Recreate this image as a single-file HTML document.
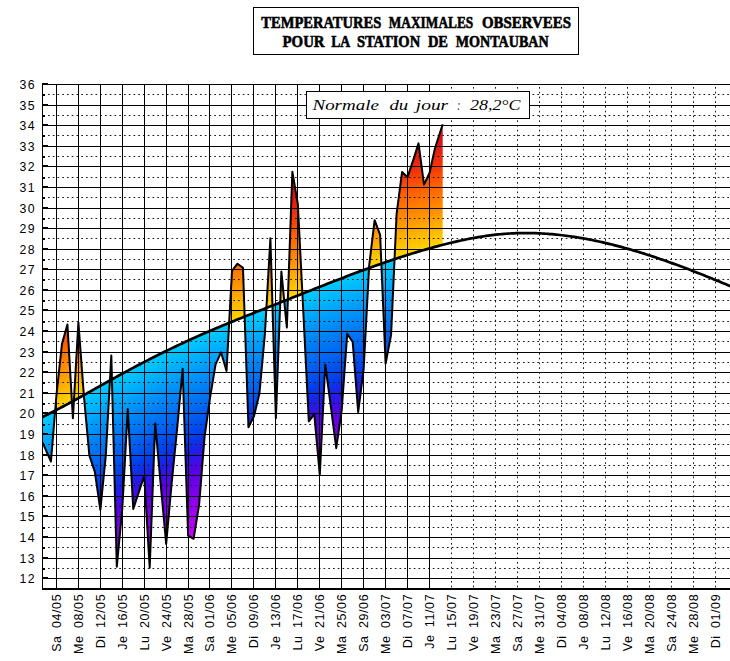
<!DOCTYPE html><html><head><meta charset="utf-8"><style>html,body{margin:0;padding:0;background:#fff;width:730px;height:661px;overflow:hidden;position:relative}</style></head><body><svg width="730" height="661" viewBox="0 0 730 661" style="position:absolute;left:0;top:0">
<defs>
<linearGradient id="g" x1="0" y1="0" x2="0" y2="1">
<stop offset="0.0000" stop-color="rgb(175,0,40)"/>
<stop offset="0.1053" stop-color="rgb(205,0,30)"/>
<stop offset="0.1579" stop-color="rgb(220,20,20)"/>
<stop offset="0.2105" stop-color="rgb(240,50,10)"/>
<stop offset="0.2632" stop-color="rgb(255,95,0)"/>
<stop offset="0.3158" stop-color="rgb(255,135,0)"/>
<stop offset="0.3684" stop-color="rgb(255,175,0)"/>
<stop offset="0.4211" stop-color="rgb(255,215,0)"/>
<stop offset="0.4211" stop-color="rgb(0,205,255)"/>
<stop offset="0.5000" stop-color="rgb(0,160,250)"/>
<stop offset="0.5526" stop-color="rgb(0,130,245)"/>
<stop offset="0.6105" stop-color="rgb(0,100,240)"/>
<stop offset="0.6684" stop-color="rgb(0,65,235)"/>
<stop offset="0.7105" stop-color="rgb(30,30,230)"/>
<stop offset="0.7632" stop-color="rgb(90,0,230)"/>
<stop offset="0.8158" stop-color="rgb(125,0,235)"/>
<stop offset="0.8684" stop-color="rgb(160,0,242)"/>
<stop offset="0.9211" stop-color="rgb(195,0,252)"/>
<stop offset="0.9737" stop-color="rgb(220,0,255)"/>
<stop offset="1.0000" stop-color="rgb(225,0,255)"/>
</linearGradient>
<clipPath id="plot"><rect x="42" y="84" width="688" height="504"/></clipPath>
<clipPath id="fillc"><polygon points="39.99,436.80 45.48,449.17 50.96,461.53 56.45,394.97 61.94,344.07 67.42,324.49 72.91,418.26 78.39,322.43 83.88,395.59 89.37,455.35 94.85,471.84 100.34,509.96 105.82,455.35 111.31,355.40 116.80,566.64 122.28,508.93 127.77,408.98 133.25,508.93 138.74,492.45 144.23,475.96 149.71,567.67 155.20,423.41 160.68,484.20 166.17,543.97 171.66,483.17 177.14,428.56 182.63,368.80 188.11,535.72 193.60,538.81 199.09,504.81 204.57,436.80 210.06,397.65 215.54,364.68 221.03,352.31 226.52,370.86 232.00,270.91 237.49,263.70 242.97,267.82 248.46,427.33 253.95,416.20 259.43,393.53 264.92,333.76 270.40,238.35 275.89,418.26 281.38,271.53 286.86,327.58 292.35,171.79 297.83,203.93 303.32,312.13 308.81,421.35 314.29,414.14 319.78,474.93 325.26,364.68 330.75,405.89 336.24,448.14 341.72,410.01 347.21,333.76 352.69,342.01 358.18,412.08 363.67,368.80 369.15,265.76 374.64,220.21 380.12,234.85 385.61,363.65 391.10,334.80 396.58,214.24 402.07,171.99 407.55,177.14 413.04,160.66 418.53,143.35 424.01,184.56 429.50,173.02 434.98,148.29 442.70,124.18 442.70,244.85 440.70,245.37 438.70,245.90 436.70,246.43 434.70,246.97 432.70,247.52 430.70,248.08 428.70,248.64 426.70,249.21 424.70,249.78 422.70,250.36 420.70,250.95 418.70,251.55 416.70,252.15 414.70,252.75 412.70,253.36 410.70,253.98 408.70,254.61 406.70,255.24 404.70,255.87 402.70,256.51 400.70,257.16 398.70,257.81 396.70,258.47 394.70,259.13 392.70,259.80 390.70,260.47 388.70,261.15 386.70,261.83 384.70,262.52 382.70,263.21 380.70,263.91 378.70,264.61 376.70,265.32 374.70,266.03 372.70,266.74 370.70,267.46 368.70,268.18 366.70,268.91 364.70,269.64 362.70,270.37 360.70,271.11 358.70,271.85 356.70,272.59 354.70,273.34 352.70,274.09 350.70,274.84 348.70,275.60 346.70,276.36 344.70,277.12 342.70,277.89 340.70,278.65 338.70,279.42 336.70,280.20 334.70,280.97 332.70,281.75 330.70,282.53 328.70,283.31 326.70,284.09 324.70,284.88 322.70,285.66 320.70,286.45 318.70,287.24 316.70,288.03 314.70,288.82 312.70,289.61 310.70,290.40 308.70,291.20 306.70,291.99 304.70,292.79 302.70,293.58 300.70,294.38 298.70,295.17 296.70,295.97 294.70,296.77 292.70,297.56 290.70,298.36 288.70,299.15 286.70,299.95 284.70,300.74 282.70,301.53 280.70,302.33 278.70,303.12 276.70,303.91 274.70,304.70 272.70,305.49 270.70,306.28 268.70,307.07 266.70,307.86 264.70,308.65 262.70,309.43 260.70,310.22 258.70,311.01 256.70,311.81 254.70,312.60 252.70,313.39 250.70,314.19 248.70,314.98 246.70,315.78 244.70,316.58 242.70,317.38 240.70,318.18 238.70,318.99 236.70,319.79 234.70,320.60 232.70,321.42 230.70,322.23 228.70,323.05 226.70,323.87 224.70,324.70 222.70,325.53 220.70,326.36 218.70,327.20 216.70,328.04 214.70,328.88 212.70,329.73 210.70,330.59 208.70,331.44 206.70,332.31 204.70,333.17 202.70,334.05 200.70,334.93 198.70,335.81 196.70,336.70 194.70,337.60 192.70,338.50 190.70,339.40 188.70,340.32 186.70,341.23 184.70,342.16 182.70,343.09 180.70,344.02 178.70,344.96 176.70,345.91 174.70,346.86 172.70,347.82 170.70,348.78 168.70,349.75 166.70,350.72 164.70,351.70 162.70,352.68 160.70,353.67 158.70,354.67 156.70,355.67 154.70,356.67 152.70,357.68 150.70,358.70 148.70,359.72 146.70,360.74 144.70,361.77 142.70,362.81 140.70,363.85 138.70,364.90 136.70,365.95 134.70,367.00 132.70,368.06 130.70,369.13 128.70,370.20 126.70,371.27 124.70,372.35 122.70,373.43 120.70,374.52 118.70,375.62 116.70,376.72 114.70,377.82 112.70,378.93 110.70,380.04 108.70,381.15 106.70,382.27 104.70,383.39 102.70,384.51 100.70,385.63 98.70,386.76 96.70,387.88 94.70,389.01 92.70,390.13 90.70,391.26 88.70,392.38 86.70,393.50 84.70,394.62 82.70,395.74 80.70,396.86 78.70,397.97 76.70,399.07 74.70,400.18 72.70,401.28 70.70,402.37 68.70,403.46 66.70,404.54 64.70,405.62 62.70,406.69 60.70,407.75 58.70,408.80 56.70,409.85 54.70,410.88 52.70,411.91 50.70,412.93 48.70,413.94 46.70,414.94 44.70,415.93 42.70,416.90 40.70,417.87"/></clipPath>
</defs>
<rect width="730" height="661" fill="#fff"/>
<g clip-path="url(#plot)"><g clip-path="url(#fillc)">
<rect x="38" y="254.0" width="1" height="391.6" fill="url(#g)" shape-rendering="crispEdges"/>
<rect x="39" y="253.6" width="1" height="391.6" fill="url(#g)" shape-rendering="crispEdges"/>
<rect x="40" y="253.1" width="1" height="391.6" fill="url(#g)" shape-rendering="crispEdges"/>
<rect x="41" y="252.6" width="1" height="391.6" fill="url(#g)" shape-rendering="crispEdges"/>
<rect x="42" y="252.1" width="1" height="391.6" fill="url(#g)" shape-rendering="crispEdges"/>
<rect x="43" y="251.6" width="1" height="391.6" fill="url(#g)" shape-rendering="crispEdges"/>
<rect x="44" y="251.2" width="1" height="391.6" fill="url(#g)" shape-rendering="crispEdges"/>
<rect x="45" y="250.7" width="1" height="391.6" fill="url(#g)" shape-rendering="crispEdges"/>
<rect x="46" y="250.2" width="1" height="391.6" fill="url(#g)" shape-rendering="crispEdges"/>
<rect x="47" y="249.7" width="1" height="391.6" fill="url(#g)" shape-rendering="crispEdges"/>
<rect x="48" y="249.2" width="1" height="391.6" fill="url(#g)" shape-rendering="crispEdges"/>
<rect x="49" y="248.7" width="1" height="391.6" fill="url(#g)" shape-rendering="crispEdges"/>
<rect x="50" y="248.2" width="1" height="391.6" fill="url(#g)" shape-rendering="crispEdges"/>
<rect x="51" y="247.7" width="1" height="391.6" fill="url(#g)" shape-rendering="crispEdges"/>
<rect x="52" y="247.2" width="1" height="391.6" fill="url(#g)" shape-rendering="crispEdges"/>
<rect x="53" y="246.6" width="1" height="391.6" fill="url(#g)" shape-rendering="crispEdges"/>
<rect x="54" y="246.1" width="1" height="391.6" fill="url(#g)" shape-rendering="crispEdges"/>
<rect x="55" y="245.6" width="1" height="391.6" fill="url(#g)" shape-rendering="crispEdges"/>
<rect x="56" y="245.1" width="1" height="391.6" fill="url(#g)" shape-rendering="crispEdges"/>
<rect x="57" y="244.6" width="1" height="391.6" fill="url(#g)" shape-rendering="crispEdges"/>
<rect x="58" y="244.0" width="1" height="391.6" fill="url(#g)" shape-rendering="crispEdges"/>
<rect x="59" y="243.5" width="1" height="391.6" fill="url(#g)" shape-rendering="crispEdges"/>
<rect x="60" y="243.0" width="1" height="391.6" fill="url(#g)" shape-rendering="crispEdges"/>
<rect x="61" y="242.5" width="1" height="391.6" fill="url(#g)" shape-rendering="crispEdges"/>
<rect x="62" y="241.9" width="1" height="391.6" fill="url(#g)" shape-rendering="crispEdges"/>
<rect x="63" y="241.4" width="1" height="391.6" fill="url(#g)" shape-rendering="crispEdges"/>
<rect x="64" y="240.9" width="1" height="391.6" fill="url(#g)" shape-rendering="crispEdges"/>
<rect x="65" y="240.3" width="1" height="391.6" fill="url(#g)" shape-rendering="crispEdges"/>
<rect x="66" y="239.8" width="1" height="391.6" fill="url(#g)" shape-rendering="crispEdges"/>
<rect x="67" y="239.2" width="1" height="391.6" fill="url(#g)" shape-rendering="crispEdges"/>
<rect x="68" y="238.7" width="1" height="391.6" fill="url(#g)" shape-rendering="crispEdges"/>
<rect x="69" y="238.2" width="1" height="391.6" fill="url(#g)" shape-rendering="crispEdges"/>
<rect x="70" y="237.6" width="1" height="391.6" fill="url(#g)" shape-rendering="crispEdges"/>
<rect x="71" y="237.1" width="1" height="391.6" fill="url(#g)" shape-rendering="crispEdges"/>
<rect x="72" y="236.5" width="1" height="391.6" fill="url(#g)" shape-rendering="crispEdges"/>
<rect x="73" y="236.0" width="1" height="391.6" fill="url(#g)" shape-rendering="crispEdges"/>
<rect x="74" y="235.4" width="1" height="391.6" fill="url(#g)" shape-rendering="crispEdges"/>
<rect x="75" y="234.9" width="1" height="391.6" fill="url(#g)" shape-rendering="crispEdges"/>
<rect x="76" y="234.3" width="1" height="391.6" fill="url(#g)" shape-rendering="crispEdges"/>
<rect x="77" y="233.8" width="1" height="391.6" fill="url(#g)" shape-rendering="crispEdges"/>
<rect x="78" y="233.2" width="1" height="391.6" fill="url(#g)" shape-rendering="crispEdges"/>
<rect x="79" y="232.7" width="1" height="391.6" fill="url(#g)" shape-rendering="crispEdges"/>
<rect x="80" y="232.1" width="1" height="391.6" fill="url(#g)" shape-rendering="crispEdges"/>
<rect x="81" y="231.5" width="1" height="391.6" fill="url(#g)" shape-rendering="crispEdges"/>
<rect x="82" y="231.0" width="1" height="391.6" fill="url(#g)" shape-rendering="crispEdges"/>
<rect x="83" y="230.4" width="1" height="391.6" fill="url(#g)" shape-rendering="crispEdges"/>
<rect x="84" y="229.9" width="1" height="391.6" fill="url(#g)" shape-rendering="crispEdges"/>
<rect x="85" y="229.3" width="1" height="391.6" fill="url(#g)" shape-rendering="crispEdges"/>
<rect x="86" y="228.8" width="1" height="391.6" fill="url(#g)" shape-rendering="crispEdges"/>
<rect x="87" y="228.2" width="1" height="391.6" fill="url(#g)" shape-rendering="crispEdges"/>
<rect x="88" y="227.6" width="1" height="391.6" fill="url(#g)" shape-rendering="crispEdges"/>
<rect x="89" y="227.1" width="1" height="391.6" fill="url(#g)" shape-rendering="crispEdges"/>
<rect x="90" y="226.5" width="1" height="391.6" fill="url(#g)" shape-rendering="crispEdges"/>
<rect x="91" y="225.9" width="1" height="391.6" fill="url(#g)" shape-rendering="crispEdges"/>
<rect x="92" y="225.4" width="1" height="391.6" fill="url(#g)" shape-rendering="crispEdges"/>
<rect x="93" y="224.8" width="1" height="391.6" fill="url(#g)" shape-rendering="crispEdges"/>
<rect x="94" y="224.3" width="1" height="391.6" fill="url(#g)" shape-rendering="crispEdges"/>
<rect x="95" y="223.7" width="1" height="391.6" fill="url(#g)" shape-rendering="crispEdges"/>
<rect x="96" y="223.1" width="1" height="391.6" fill="url(#g)" shape-rendering="crispEdges"/>
<rect x="97" y="222.6" width="1" height="391.6" fill="url(#g)" shape-rendering="crispEdges"/>
<rect x="98" y="222.0" width="1" height="391.6" fill="url(#g)" shape-rendering="crispEdges"/>
<rect x="99" y="221.4" width="1" height="391.6" fill="url(#g)" shape-rendering="crispEdges"/>
<rect x="100" y="220.9" width="1" height="391.6" fill="url(#g)" shape-rendering="crispEdges"/>
<rect x="101" y="220.3" width="1" height="391.6" fill="url(#g)" shape-rendering="crispEdges"/>
<rect x="102" y="219.8" width="1" height="391.6" fill="url(#g)" shape-rendering="crispEdges"/>
<rect x="103" y="219.2" width="1" height="391.6" fill="url(#g)" shape-rendering="crispEdges"/>
<rect x="104" y="218.6" width="1" height="391.6" fill="url(#g)" shape-rendering="crispEdges"/>
<rect x="105" y="218.1" width="1" height="391.6" fill="url(#g)" shape-rendering="crispEdges"/>
<rect x="106" y="217.5" width="1" height="391.6" fill="url(#g)" shape-rendering="crispEdges"/>
<rect x="107" y="217.0" width="1" height="391.6" fill="url(#g)" shape-rendering="crispEdges"/>
<rect x="108" y="216.4" width="1" height="391.6" fill="url(#g)" shape-rendering="crispEdges"/>
<rect x="109" y="215.8" width="1" height="391.6" fill="url(#g)" shape-rendering="crispEdges"/>
<rect x="110" y="215.3" width="1" height="391.6" fill="url(#g)" shape-rendering="crispEdges"/>
<rect x="111" y="214.7" width="1" height="391.6" fill="url(#g)" shape-rendering="crispEdges"/>
<rect x="112" y="214.2" width="1" height="391.6" fill="url(#g)" shape-rendering="crispEdges"/>
<rect x="113" y="213.6" width="1" height="391.6" fill="url(#g)" shape-rendering="crispEdges"/>
<rect x="114" y="213.1" width="1" height="391.6" fill="url(#g)" shape-rendering="crispEdges"/>
<rect x="115" y="212.5" width="1" height="391.6" fill="url(#g)" shape-rendering="crispEdges"/>
<rect x="116" y="212.0" width="1" height="391.6" fill="url(#g)" shape-rendering="crispEdges"/>
<rect x="117" y="211.4" width="1" height="391.6" fill="url(#g)" shape-rendering="crispEdges"/>
<rect x="118" y="210.9" width="1" height="391.6" fill="url(#g)" shape-rendering="crispEdges"/>
<rect x="119" y="210.3" width="1" height="391.6" fill="url(#g)" shape-rendering="crispEdges"/>
<rect x="120" y="209.8" width="1" height="391.6" fill="url(#g)" shape-rendering="crispEdges"/>
<rect x="121" y="209.2" width="1" height="391.6" fill="url(#g)" shape-rendering="crispEdges"/>
<rect x="122" y="208.7" width="1" height="391.6" fill="url(#g)" shape-rendering="crispEdges"/>
<rect x="123" y="208.1" width="1" height="391.6" fill="url(#g)" shape-rendering="crispEdges"/>
<rect x="124" y="207.6" width="1" height="391.6" fill="url(#g)" shape-rendering="crispEdges"/>
<rect x="125" y="207.1" width="1" height="391.6" fill="url(#g)" shape-rendering="crispEdges"/>
<rect x="126" y="206.5" width="1" height="391.6" fill="url(#g)" shape-rendering="crispEdges"/>
<rect x="127" y="206.0" width="1" height="391.6" fill="url(#g)" shape-rendering="crispEdges"/>
<rect x="128" y="205.4" width="1" height="391.6" fill="url(#g)" shape-rendering="crispEdges"/>
<rect x="129" y="204.9" width="1" height="391.6" fill="url(#g)" shape-rendering="crispEdges"/>
<rect x="130" y="204.4" width="1" height="391.6" fill="url(#g)" shape-rendering="crispEdges"/>
<rect x="131" y="203.8" width="1" height="391.6" fill="url(#g)" shape-rendering="crispEdges"/>
<rect x="132" y="203.3" width="1" height="391.6" fill="url(#g)" shape-rendering="crispEdges"/>
<rect x="133" y="202.8" width="1" height="391.6" fill="url(#g)" shape-rendering="crispEdges"/>
<rect x="134" y="202.2" width="1" height="391.6" fill="url(#g)" shape-rendering="crispEdges"/>
<rect x="135" y="201.7" width="1" height="391.6" fill="url(#g)" shape-rendering="crispEdges"/>
<rect x="136" y="201.2" width="1" height="391.6" fill="url(#g)" shape-rendering="crispEdges"/>
<rect x="137" y="200.7" width="1" height="391.6" fill="url(#g)" shape-rendering="crispEdges"/>
<rect x="138" y="200.1" width="1" height="391.6" fill="url(#g)" shape-rendering="crispEdges"/>
<rect x="139" y="199.6" width="1" height="391.6" fill="url(#g)" shape-rendering="crispEdges"/>
<rect x="140" y="199.1" width="1" height="391.6" fill="url(#g)" shape-rendering="crispEdges"/>
<rect x="141" y="198.6" width="1" height="391.6" fill="url(#g)" shape-rendering="crispEdges"/>
<rect x="142" y="198.0" width="1" height="391.6" fill="url(#g)" shape-rendering="crispEdges"/>
<rect x="143" y="197.5" width="1" height="391.6" fill="url(#g)" shape-rendering="crispEdges"/>
<rect x="144" y="197.0" width="1" height="391.6" fill="url(#g)" shape-rendering="crispEdges"/>
<rect x="145" y="196.5" width="1" height="391.6" fill="url(#g)" shape-rendering="crispEdges"/>
<rect x="146" y="196.0" width="1" height="391.6" fill="url(#g)" shape-rendering="crispEdges"/>
<rect x="147" y="195.5" width="1" height="391.6" fill="url(#g)" shape-rendering="crispEdges"/>
<rect x="148" y="195.0" width="1" height="391.6" fill="url(#g)" shape-rendering="crispEdges"/>
<rect x="149" y="194.4" width="1" height="391.6" fill="url(#g)" shape-rendering="crispEdges"/>
<rect x="150" y="193.9" width="1" height="391.6" fill="url(#g)" shape-rendering="crispEdges"/>
<rect x="151" y="193.4" width="1" height="391.6" fill="url(#g)" shape-rendering="crispEdges"/>
<rect x="152" y="192.9" width="1" height="391.6" fill="url(#g)" shape-rendering="crispEdges"/>
<rect x="153" y="192.4" width="1" height="391.6" fill="url(#g)" shape-rendering="crispEdges"/>
<rect x="154" y="191.9" width="1" height="391.6" fill="url(#g)" shape-rendering="crispEdges"/>
<rect x="155" y="191.4" width="1" height="391.6" fill="url(#g)" shape-rendering="crispEdges"/>
<rect x="156" y="190.9" width="1" height="391.6" fill="url(#g)" shape-rendering="crispEdges"/>
<rect x="157" y="190.4" width="1" height="391.6" fill="url(#g)" shape-rendering="crispEdges"/>
<rect x="158" y="189.9" width="1" height="391.6" fill="url(#g)" shape-rendering="crispEdges"/>
<rect x="159" y="189.4" width="1" height="391.6" fill="url(#g)" shape-rendering="crispEdges"/>
<rect x="160" y="188.9" width="1" height="391.6" fill="url(#g)" shape-rendering="crispEdges"/>
<rect x="161" y="188.4" width="1" height="391.6" fill="url(#g)" shape-rendering="crispEdges"/>
<rect x="162" y="187.9" width="1" height="391.6" fill="url(#g)" shape-rendering="crispEdges"/>
<rect x="163" y="187.4" width="1" height="391.6" fill="url(#g)" shape-rendering="crispEdges"/>
<rect x="164" y="186.9" width="1" height="391.6" fill="url(#g)" shape-rendering="crispEdges"/>
<rect x="165" y="186.4" width="1" height="391.6" fill="url(#g)" shape-rendering="crispEdges"/>
<rect x="166" y="186.0" width="1" height="391.6" fill="url(#g)" shape-rendering="crispEdges"/>
<rect x="167" y="185.5" width="1" height="391.6" fill="url(#g)" shape-rendering="crispEdges"/>
<rect x="168" y="185.0" width="1" height="391.6" fill="url(#g)" shape-rendering="crispEdges"/>
<rect x="169" y="184.5" width="1" height="391.6" fill="url(#g)" shape-rendering="crispEdges"/>
<rect x="170" y="184.0" width="1" height="391.6" fill="url(#g)" shape-rendering="crispEdges"/>
<rect x="171" y="183.5" width="1" height="391.6" fill="url(#g)" shape-rendering="crispEdges"/>
<rect x="172" y="183.0" width="1" height="391.6" fill="url(#g)" shape-rendering="crispEdges"/>
<rect x="173" y="182.6" width="1" height="391.6" fill="url(#g)" shape-rendering="crispEdges"/>
<rect x="174" y="182.1" width="1" height="391.6" fill="url(#g)" shape-rendering="crispEdges"/>
<rect x="175" y="181.6" width="1" height="391.6" fill="url(#g)" shape-rendering="crispEdges"/>
<rect x="176" y="181.1" width="1" height="391.6" fill="url(#g)" shape-rendering="crispEdges"/>
<rect x="177" y="180.7" width="1" height="391.6" fill="url(#g)" shape-rendering="crispEdges"/>
<rect x="178" y="180.2" width="1" height="391.6" fill="url(#g)" shape-rendering="crispEdges"/>
<rect x="179" y="179.7" width="1" height="391.6" fill="url(#g)" shape-rendering="crispEdges"/>
<rect x="180" y="179.3" width="1" height="391.6" fill="url(#g)" shape-rendering="crispEdges"/>
<rect x="181" y="178.8" width="1" height="391.6" fill="url(#g)" shape-rendering="crispEdges"/>
<rect x="182" y="178.3" width="1" height="391.6" fill="url(#g)" shape-rendering="crispEdges"/>
<rect x="183" y="177.9" width="1" height="391.6" fill="url(#g)" shape-rendering="crispEdges"/>
<rect x="184" y="177.4" width="1" height="391.6" fill="url(#g)" shape-rendering="crispEdges"/>
<rect x="185" y="176.9" width="1" height="391.6" fill="url(#g)" shape-rendering="crispEdges"/>
<rect x="186" y="176.5" width="1" height="391.6" fill="url(#g)" shape-rendering="crispEdges"/>
<rect x="187" y="176.0" width="1" height="391.6" fill="url(#g)" shape-rendering="crispEdges"/>
<rect x="188" y="175.5" width="1" height="391.6" fill="url(#g)" shape-rendering="crispEdges"/>
<rect x="189" y="175.1" width="1" height="391.6" fill="url(#g)" shape-rendering="crispEdges"/>
<rect x="190" y="174.6" width="1" height="391.6" fill="url(#g)" shape-rendering="crispEdges"/>
<rect x="191" y="174.2" width="1" height="391.6" fill="url(#g)" shape-rendering="crispEdges"/>
<rect x="192" y="173.7" width="1" height="391.6" fill="url(#g)" shape-rendering="crispEdges"/>
<rect x="193" y="173.3" width="1" height="391.6" fill="url(#g)" shape-rendering="crispEdges"/>
<rect x="194" y="172.8" width="1" height="391.6" fill="url(#g)" shape-rendering="crispEdges"/>
<rect x="195" y="172.4" width="1" height="391.6" fill="url(#g)" shape-rendering="crispEdges"/>
<rect x="196" y="171.9" width="1" height="391.6" fill="url(#g)" shape-rendering="crispEdges"/>
<rect x="197" y="171.5" width="1" height="391.6" fill="url(#g)" shape-rendering="crispEdges"/>
<rect x="198" y="171.0" width="1" height="391.6" fill="url(#g)" shape-rendering="crispEdges"/>
<rect x="199" y="170.6" width="1" height="391.6" fill="url(#g)" shape-rendering="crispEdges"/>
<rect x="200" y="170.2" width="1" height="391.6" fill="url(#g)" shape-rendering="crispEdges"/>
<rect x="201" y="169.7" width="1" height="391.6" fill="url(#g)" shape-rendering="crispEdges"/>
<rect x="202" y="169.3" width="1" height="391.6" fill="url(#g)" shape-rendering="crispEdges"/>
<rect x="203" y="168.8" width="1" height="391.6" fill="url(#g)" shape-rendering="crispEdges"/>
<rect x="204" y="168.4" width="1" height="391.6" fill="url(#g)" shape-rendering="crispEdges"/>
<rect x="205" y="168.0" width="1" height="391.6" fill="url(#g)" shape-rendering="crispEdges"/>
<rect x="206" y="167.5" width="1" height="391.6" fill="url(#g)" shape-rendering="crispEdges"/>
<rect x="207" y="167.1" width="1" height="391.6" fill="url(#g)" shape-rendering="crispEdges"/>
<rect x="208" y="166.7" width="1" height="391.6" fill="url(#g)" shape-rendering="crispEdges"/>
<rect x="209" y="166.2" width="1" height="391.6" fill="url(#g)" shape-rendering="crispEdges"/>
<rect x="210" y="165.8" width="1" height="391.6" fill="url(#g)" shape-rendering="crispEdges"/>
<rect x="211" y="165.4" width="1" height="391.6" fill="url(#g)" shape-rendering="crispEdges"/>
<rect x="212" y="165.0" width="1" height="391.6" fill="url(#g)" shape-rendering="crispEdges"/>
<rect x="213" y="164.5" width="1" height="391.6" fill="url(#g)" shape-rendering="crispEdges"/>
<rect x="214" y="164.1" width="1" height="391.6" fill="url(#g)" shape-rendering="crispEdges"/>
<rect x="215" y="163.7" width="1" height="391.6" fill="url(#g)" shape-rendering="crispEdges"/>
<rect x="216" y="163.3" width="1" height="391.6" fill="url(#g)" shape-rendering="crispEdges"/>
<rect x="217" y="162.8" width="1" height="391.6" fill="url(#g)" shape-rendering="crispEdges"/>
<rect x="218" y="162.4" width="1" height="391.6" fill="url(#g)" shape-rendering="crispEdges"/>
<rect x="219" y="162.0" width="1" height="391.6" fill="url(#g)" shape-rendering="crispEdges"/>
<rect x="220" y="161.6" width="1" height="391.6" fill="url(#g)" shape-rendering="crispEdges"/>
<rect x="221" y="161.2" width="1" height="391.6" fill="url(#g)" shape-rendering="crispEdges"/>
<rect x="222" y="160.7" width="1" height="391.6" fill="url(#g)" shape-rendering="crispEdges"/>
<rect x="223" y="160.3" width="1" height="391.6" fill="url(#g)" shape-rendering="crispEdges"/>
<rect x="224" y="159.9" width="1" height="391.6" fill="url(#g)" shape-rendering="crispEdges"/>
<rect x="225" y="159.5" width="1" height="391.6" fill="url(#g)" shape-rendering="crispEdges"/>
<rect x="226" y="159.1" width="1" height="391.6" fill="url(#g)" shape-rendering="crispEdges"/>
<rect x="227" y="158.7" width="1" height="391.6" fill="url(#g)" shape-rendering="crispEdges"/>
<rect x="228" y="158.3" width="1" height="391.6" fill="url(#g)" shape-rendering="crispEdges"/>
<rect x="229" y="157.9" width="1" height="391.6" fill="url(#g)" shape-rendering="crispEdges"/>
<rect x="230" y="157.5" width="1" height="391.6" fill="url(#g)" shape-rendering="crispEdges"/>
<rect x="231" y="157.0" width="1" height="391.6" fill="url(#g)" shape-rendering="crispEdges"/>
<rect x="232" y="156.6" width="1" height="391.6" fill="url(#g)" shape-rendering="crispEdges"/>
<rect x="233" y="156.2" width="1" height="391.6" fill="url(#g)" shape-rendering="crispEdges"/>
<rect x="234" y="155.8" width="1" height="391.6" fill="url(#g)" shape-rendering="crispEdges"/>
<rect x="235" y="155.4" width="1" height="391.6" fill="url(#g)" shape-rendering="crispEdges"/>
<rect x="236" y="155.0" width="1" height="391.6" fill="url(#g)" shape-rendering="crispEdges"/>
<rect x="237" y="154.6" width="1" height="391.6" fill="url(#g)" shape-rendering="crispEdges"/>
<rect x="238" y="154.2" width="1" height="391.6" fill="url(#g)" shape-rendering="crispEdges"/>
<rect x="239" y="153.8" width="1" height="391.6" fill="url(#g)" shape-rendering="crispEdges"/>
<rect x="240" y="153.4" width="1" height="391.6" fill="url(#g)" shape-rendering="crispEdges"/>
<rect x="241" y="153.0" width="1" height="391.6" fill="url(#g)" shape-rendering="crispEdges"/>
<rect x="242" y="152.6" width="1" height="391.6" fill="url(#g)" shape-rendering="crispEdges"/>
<rect x="243" y="152.2" width="1" height="391.6" fill="url(#g)" shape-rendering="crispEdges"/>
<rect x="244" y="151.8" width="1" height="391.6" fill="url(#g)" shape-rendering="crispEdges"/>
<rect x="245" y="151.4" width="1" height="391.6" fill="url(#g)" shape-rendering="crispEdges"/>
<rect x="246" y="151.0" width="1" height="391.6" fill="url(#g)" shape-rendering="crispEdges"/>
<rect x="247" y="150.6" width="1" height="391.6" fill="url(#g)" shape-rendering="crispEdges"/>
<rect x="248" y="150.2" width="1" height="391.6" fill="url(#g)" shape-rendering="crispEdges"/>
<rect x="249" y="149.8" width="1" height="391.6" fill="url(#g)" shape-rendering="crispEdges"/>
<rect x="250" y="149.4" width="1" height="391.6" fill="url(#g)" shape-rendering="crispEdges"/>
<rect x="251" y="149.0" width="1" height="391.6" fill="url(#g)" shape-rendering="crispEdges"/>
<rect x="252" y="148.6" width="1" height="391.6" fill="url(#g)" shape-rendering="crispEdges"/>
<rect x="253" y="148.2" width="1" height="391.6" fill="url(#g)" shape-rendering="crispEdges"/>
<rect x="254" y="147.8" width="1" height="391.6" fill="url(#g)" shape-rendering="crispEdges"/>
<rect x="255" y="147.4" width="1" height="391.6" fill="url(#g)" shape-rendering="crispEdges"/>
<rect x="256" y="147.0" width="1" height="391.6" fill="url(#g)" shape-rendering="crispEdges"/>
<rect x="257" y="146.6" width="1" height="391.6" fill="url(#g)" shape-rendering="crispEdges"/>
<rect x="258" y="146.2" width="1" height="391.6" fill="url(#g)" shape-rendering="crispEdges"/>
<rect x="259" y="145.8" width="1" height="391.6" fill="url(#g)" shape-rendering="crispEdges"/>
<rect x="260" y="145.4" width="1" height="391.6" fill="url(#g)" shape-rendering="crispEdges"/>
<rect x="261" y="145.0" width="1" height="391.6" fill="url(#g)" shape-rendering="crispEdges"/>
<rect x="262" y="144.6" width="1" height="391.6" fill="url(#g)" shape-rendering="crispEdges"/>
<rect x="263" y="144.3" width="1" height="391.6" fill="url(#g)" shape-rendering="crispEdges"/>
<rect x="264" y="143.9" width="1" height="391.6" fill="url(#g)" shape-rendering="crispEdges"/>
<rect x="265" y="143.5" width="1" height="391.6" fill="url(#g)" shape-rendering="crispEdges"/>
<rect x="266" y="143.1" width="1" height="391.6" fill="url(#g)" shape-rendering="crispEdges"/>
<rect x="267" y="142.7" width="1" height="391.6" fill="url(#g)" shape-rendering="crispEdges"/>
<rect x="268" y="142.3" width="1" height="391.6" fill="url(#g)" shape-rendering="crispEdges"/>
<rect x="269" y="141.9" width="1" height="391.6" fill="url(#g)" shape-rendering="crispEdges"/>
<rect x="270" y="141.5" width="1" height="391.6" fill="url(#g)" shape-rendering="crispEdges"/>
<rect x="271" y="141.1" width="1" height="391.6" fill="url(#g)" shape-rendering="crispEdges"/>
<rect x="272" y="140.7" width="1" height="391.6" fill="url(#g)" shape-rendering="crispEdges"/>
<rect x="273" y="140.3" width="1" height="391.6" fill="url(#g)" shape-rendering="crispEdges"/>
<rect x="274" y="139.9" width="1" height="391.6" fill="url(#g)" shape-rendering="crispEdges"/>
<rect x="275" y="139.5" width="1" height="391.6" fill="url(#g)" shape-rendering="crispEdges"/>
<rect x="276" y="139.1" width="1" height="391.6" fill="url(#g)" shape-rendering="crispEdges"/>
<rect x="277" y="138.7" width="1" height="391.6" fill="url(#g)" shape-rendering="crispEdges"/>
<rect x="278" y="138.3" width="1" height="391.6" fill="url(#g)" shape-rendering="crispEdges"/>
<rect x="279" y="137.9" width="1" height="391.6" fill="url(#g)" shape-rendering="crispEdges"/>
<rect x="280" y="137.5" width="1" height="391.6" fill="url(#g)" shape-rendering="crispEdges"/>
<rect x="281" y="137.1" width="1" height="391.6" fill="url(#g)" shape-rendering="crispEdges"/>
<rect x="282" y="136.7" width="1" height="391.6" fill="url(#g)" shape-rendering="crispEdges"/>
<rect x="283" y="136.4" width="1" height="391.6" fill="url(#g)" shape-rendering="crispEdges"/>
<rect x="284" y="136.0" width="1" height="391.6" fill="url(#g)" shape-rendering="crispEdges"/>
<rect x="285" y="135.6" width="1" height="391.6" fill="url(#g)" shape-rendering="crispEdges"/>
<rect x="286" y="135.2" width="1" height="391.6" fill="url(#g)" shape-rendering="crispEdges"/>
<rect x="287" y="134.8" width="1" height="391.6" fill="url(#g)" shape-rendering="crispEdges"/>
<rect x="288" y="134.4" width="1" height="391.6" fill="url(#g)" shape-rendering="crispEdges"/>
<rect x="289" y="134.0" width="1" height="391.6" fill="url(#g)" shape-rendering="crispEdges"/>
<rect x="290" y="133.6" width="1" height="391.6" fill="url(#g)" shape-rendering="crispEdges"/>
<rect x="291" y="133.2" width="1" height="391.6" fill="url(#g)" shape-rendering="crispEdges"/>
<rect x="292" y="132.8" width="1" height="391.6" fill="url(#g)" shape-rendering="crispEdges"/>
<rect x="293" y="132.4" width="1" height="391.6" fill="url(#g)" shape-rendering="crispEdges"/>
<rect x="294" y="132.0" width="1" height="391.6" fill="url(#g)" shape-rendering="crispEdges"/>
<rect x="295" y="131.6" width="1" height="391.6" fill="url(#g)" shape-rendering="crispEdges"/>
<rect x="296" y="131.2" width="1" height="391.6" fill="url(#g)" shape-rendering="crispEdges"/>
<rect x="297" y="130.8" width="1" height="391.6" fill="url(#g)" shape-rendering="crispEdges"/>
<rect x="298" y="130.4" width="1" height="391.6" fill="url(#g)" shape-rendering="crispEdges"/>
<rect x="299" y="130.0" width="1" height="391.6" fill="url(#g)" shape-rendering="crispEdges"/>
<rect x="300" y="129.6" width="1" height="391.6" fill="url(#g)" shape-rendering="crispEdges"/>
<rect x="301" y="129.2" width="1" height="391.6" fill="url(#g)" shape-rendering="crispEdges"/>
<rect x="302" y="128.8" width="1" height="391.6" fill="url(#g)" shape-rendering="crispEdges"/>
<rect x="303" y="128.4" width="1" height="391.6" fill="url(#g)" shape-rendering="crispEdges"/>
<rect x="304" y="128.0" width="1" height="391.6" fill="url(#g)" shape-rendering="crispEdges"/>
<rect x="305" y="127.6" width="1" height="391.6" fill="url(#g)" shape-rendering="crispEdges"/>
<rect x="306" y="127.2" width="1" height="391.6" fill="url(#g)" shape-rendering="crispEdges"/>
<rect x="307" y="126.8" width="1" height="391.6" fill="url(#g)" shape-rendering="crispEdges"/>
<rect x="308" y="126.4" width="1" height="391.6" fill="url(#g)" shape-rendering="crispEdges"/>
<rect x="309" y="126.0" width="1" height="391.6" fill="url(#g)" shape-rendering="crispEdges"/>
<rect x="310" y="125.6" width="1" height="391.6" fill="url(#g)" shape-rendering="crispEdges"/>
<rect x="311" y="125.2" width="1" height="391.6" fill="url(#g)" shape-rendering="crispEdges"/>
<rect x="312" y="124.8" width="1" height="391.6" fill="url(#g)" shape-rendering="crispEdges"/>
<rect x="313" y="124.4" width="1" height="391.6" fill="url(#g)" shape-rendering="crispEdges"/>
<rect x="314" y="124.0" width="1" height="391.6" fill="url(#g)" shape-rendering="crispEdges"/>
<rect x="315" y="123.6" width="1" height="391.6" fill="url(#g)" shape-rendering="crispEdges"/>
<rect x="316" y="123.2" width="1" height="391.6" fill="url(#g)" shape-rendering="crispEdges"/>
<rect x="317" y="122.8" width="1" height="391.6" fill="url(#g)" shape-rendering="crispEdges"/>
<rect x="318" y="122.5" width="1" height="391.6" fill="url(#g)" shape-rendering="crispEdges"/>
<rect x="319" y="122.1" width="1" height="391.6" fill="url(#g)" shape-rendering="crispEdges"/>
<rect x="320" y="121.7" width="1" height="391.6" fill="url(#g)" shape-rendering="crispEdges"/>
<rect x="321" y="121.3" width="1" height="391.6" fill="url(#g)" shape-rendering="crispEdges"/>
<rect x="322" y="120.9" width="1" height="391.6" fill="url(#g)" shape-rendering="crispEdges"/>
<rect x="323" y="120.5" width="1" height="391.6" fill="url(#g)" shape-rendering="crispEdges"/>
<rect x="324" y="120.1" width="1" height="391.6" fill="url(#g)" shape-rendering="crispEdges"/>
<rect x="325" y="119.7" width="1" height="391.6" fill="url(#g)" shape-rendering="crispEdges"/>
<rect x="326" y="119.3" width="1" height="391.6" fill="url(#g)" shape-rendering="crispEdges"/>
<rect x="327" y="118.9" width="1" height="391.6" fill="url(#g)" shape-rendering="crispEdges"/>
<rect x="328" y="118.5" width="1" height="391.6" fill="url(#g)" shape-rendering="crispEdges"/>
<rect x="329" y="118.1" width="1" height="391.6" fill="url(#g)" shape-rendering="crispEdges"/>
<rect x="330" y="117.7" width="1" height="391.6" fill="url(#g)" shape-rendering="crispEdges"/>
<rect x="331" y="117.4" width="1" height="391.6" fill="url(#g)" shape-rendering="crispEdges"/>
<rect x="332" y="117.0" width="1" height="391.6" fill="url(#g)" shape-rendering="crispEdges"/>
<rect x="333" y="116.6" width="1" height="391.6" fill="url(#g)" shape-rendering="crispEdges"/>
<rect x="334" y="116.2" width="1" height="391.6" fill="url(#g)" shape-rendering="crispEdges"/>
<rect x="335" y="115.8" width="1" height="391.6" fill="url(#g)" shape-rendering="crispEdges"/>
<rect x="336" y="115.4" width="1" height="391.6" fill="url(#g)" shape-rendering="crispEdges"/>
<rect x="337" y="115.0" width="1" height="391.6" fill="url(#g)" shape-rendering="crispEdges"/>
<rect x="338" y="114.6" width="1" height="391.6" fill="url(#g)" shape-rendering="crispEdges"/>
<rect x="339" y="114.3" width="1" height="391.6" fill="url(#g)" shape-rendering="crispEdges"/>
<rect x="340" y="113.9" width="1" height="391.6" fill="url(#g)" shape-rendering="crispEdges"/>
<rect x="341" y="113.5" width="1" height="391.6" fill="url(#g)" shape-rendering="crispEdges"/>
<rect x="342" y="113.1" width="1" height="391.6" fill="url(#g)" shape-rendering="crispEdges"/>
<rect x="343" y="112.7" width="1" height="391.6" fill="url(#g)" shape-rendering="crispEdges"/>
<rect x="344" y="112.3" width="1" height="391.6" fill="url(#g)" shape-rendering="crispEdges"/>
<rect x="345" y="112.0" width="1" height="391.6" fill="url(#g)" shape-rendering="crispEdges"/>
<rect x="346" y="111.6" width="1" height="391.6" fill="url(#g)" shape-rendering="crispEdges"/>
<rect x="347" y="111.2" width="1" height="391.6" fill="url(#g)" shape-rendering="crispEdges"/>
<rect x="348" y="110.8" width="1" height="391.6" fill="url(#g)" shape-rendering="crispEdges"/>
<rect x="349" y="110.4" width="1" height="391.6" fill="url(#g)" shape-rendering="crispEdges"/>
<rect x="350" y="110.1" width="1" height="391.6" fill="url(#g)" shape-rendering="crispEdges"/>
<rect x="351" y="109.7" width="1" height="391.6" fill="url(#g)" shape-rendering="crispEdges"/>
<rect x="352" y="109.3" width="1" height="391.6" fill="url(#g)" shape-rendering="crispEdges"/>
<rect x="353" y="108.9" width="1" height="391.6" fill="url(#g)" shape-rendering="crispEdges"/>
<rect x="354" y="108.5" width="1" height="391.6" fill="url(#g)" shape-rendering="crispEdges"/>
<rect x="355" y="108.2" width="1" height="391.6" fill="url(#g)" shape-rendering="crispEdges"/>
<rect x="356" y="107.8" width="1" height="391.6" fill="url(#g)" shape-rendering="crispEdges"/>
<rect x="357" y="107.4" width="1" height="391.6" fill="url(#g)" shape-rendering="crispEdges"/>
<rect x="358" y="107.1" width="1" height="391.6" fill="url(#g)" shape-rendering="crispEdges"/>
<rect x="359" y="106.7" width="1" height="391.6" fill="url(#g)" shape-rendering="crispEdges"/>
<rect x="360" y="106.3" width="1" height="391.6" fill="url(#g)" shape-rendering="crispEdges"/>
<rect x="361" y="105.9" width="1" height="391.6" fill="url(#g)" shape-rendering="crispEdges"/>
<rect x="362" y="105.6" width="1" height="391.6" fill="url(#g)" shape-rendering="crispEdges"/>
<rect x="363" y="105.2" width="1" height="391.6" fill="url(#g)" shape-rendering="crispEdges"/>
<rect x="364" y="104.8" width="1" height="391.6" fill="url(#g)" shape-rendering="crispEdges"/>
<rect x="365" y="104.5" width="1" height="391.6" fill="url(#g)" shape-rendering="crispEdges"/>
<rect x="366" y="104.1" width="1" height="391.6" fill="url(#g)" shape-rendering="crispEdges"/>
<rect x="367" y="103.8" width="1" height="391.6" fill="url(#g)" shape-rendering="crispEdges"/>
<rect x="368" y="103.4" width="1" height="391.6" fill="url(#g)" shape-rendering="crispEdges"/>
<rect x="369" y="103.0" width="1" height="391.6" fill="url(#g)" shape-rendering="crispEdges"/>
<rect x="370" y="102.7" width="1" height="391.6" fill="url(#g)" shape-rendering="crispEdges"/>
<rect x="371" y="102.3" width="1" height="391.6" fill="url(#g)" shape-rendering="crispEdges"/>
<rect x="372" y="101.9" width="1" height="391.6" fill="url(#g)" shape-rendering="crispEdges"/>
<rect x="373" y="101.6" width="1" height="391.6" fill="url(#g)" shape-rendering="crispEdges"/>
<rect x="374" y="101.2" width="1" height="391.6" fill="url(#g)" shape-rendering="crispEdges"/>
<rect x="375" y="100.9" width="1" height="391.6" fill="url(#g)" shape-rendering="crispEdges"/>
<rect x="376" y="100.5" width="1" height="391.6" fill="url(#g)" shape-rendering="crispEdges"/>
<rect x="377" y="100.2" width="1" height="391.6" fill="url(#g)" shape-rendering="crispEdges"/>
<rect x="378" y="99.8" width="1" height="391.6" fill="url(#g)" shape-rendering="crispEdges"/>
<rect x="379" y="99.5" width="1" height="391.6" fill="url(#g)" shape-rendering="crispEdges"/>
<rect x="380" y="99.1" width="1" height="391.6" fill="url(#g)" shape-rendering="crispEdges"/>
<rect x="381" y="98.8" width="1" height="391.6" fill="url(#g)" shape-rendering="crispEdges"/>
<rect x="382" y="98.4" width="1" height="391.6" fill="url(#g)" shape-rendering="crispEdges"/>
<rect x="383" y="98.1" width="1" height="391.6" fill="url(#g)" shape-rendering="crispEdges"/>
<rect x="384" y="97.7" width="1" height="391.6" fill="url(#g)" shape-rendering="crispEdges"/>
<rect x="385" y="97.4" width="1" height="391.6" fill="url(#g)" shape-rendering="crispEdges"/>
<rect x="386" y="97.0" width="1" height="391.6" fill="url(#g)" shape-rendering="crispEdges"/>
<rect x="387" y="96.7" width="1" height="391.6" fill="url(#g)" shape-rendering="crispEdges"/>
<rect x="388" y="96.4" width="1" height="391.6" fill="url(#g)" shape-rendering="crispEdges"/>
<rect x="389" y="96.0" width="1" height="391.6" fill="url(#g)" shape-rendering="crispEdges"/>
<rect x="390" y="95.7" width="1" height="391.6" fill="url(#g)" shape-rendering="crispEdges"/>
<rect x="391" y="95.3" width="1" height="391.6" fill="url(#g)" shape-rendering="crispEdges"/>
<rect x="392" y="95.0" width="1" height="391.6" fill="url(#g)" shape-rendering="crispEdges"/>
<rect x="393" y="94.7" width="1" height="391.6" fill="url(#g)" shape-rendering="crispEdges"/>
<rect x="394" y="94.3" width="1" height="391.6" fill="url(#g)" shape-rendering="crispEdges"/>
<rect x="395" y="94.0" width="1" height="391.6" fill="url(#g)" shape-rendering="crispEdges"/>
<rect x="396" y="93.7" width="1" height="391.6" fill="url(#g)" shape-rendering="crispEdges"/>
<rect x="397" y="93.3" width="1" height="391.6" fill="url(#g)" shape-rendering="crispEdges"/>
<rect x="398" y="93.0" width="1" height="391.6" fill="url(#g)" shape-rendering="crispEdges"/>
<rect x="399" y="92.7" width="1" height="391.6" fill="url(#g)" shape-rendering="crispEdges"/>
<rect x="400" y="92.4" width="1" height="391.6" fill="url(#g)" shape-rendering="crispEdges"/>
<rect x="401" y="92.0" width="1" height="391.6" fill="url(#g)" shape-rendering="crispEdges"/>
<rect x="402" y="91.7" width="1" height="391.6" fill="url(#g)" shape-rendering="crispEdges"/>
<rect x="403" y="91.4" width="1" height="391.6" fill="url(#g)" shape-rendering="crispEdges"/>
<rect x="404" y="91.1" width="1" height="391.6" fill="url(#g)" shape-rendering="crispEdges"/>
<rect x="405" y="90.8" width="1" height="391.6" fill="url(#g)" shape-rendering="crispEdges"/>
<rect x="406" y="90.4" width="1" height="391.6" fill="url(#g)" shape-rendering="crispEdges"/>
<rect x="407" y="90.1" width="1" height="391.6" fill="url(#g)" shape-rendering="crispEdges"/>
<rect x="408" y="89.8" width="1" height="391.6" fill="url(#g)" shape-rendering="crispEdges"/>
<rect x="409" y="89.5" width="1" height="391.6" fill="url(#g)" shape-rendering="crispEdges"/>
<rect x="410" y="89.2" width="1" height="391.6" fill="url(#g)" shape-rendering="crispEdges"/>
<rect x="411" y="88.9" width="1" height="391.6" fill="url(#g)" shape-rendering="crispEdges"/>
<rect x="412" y="88.6" width="1" height="391.6" fill="url(#g)" shape-rendering="crispEdges"/>
<rect x="413" y="88.3" width="1" height="391.6" fill="url(#g)" shape-rendering="crispEdges"/>
<rect x="414" y="87.9" width="1" height="391.6" fill="url(#g)" shape-rendering="crispEdges"/>
<rect x="415" y="87.6" width="1" height="391.6" fill="url(#g)" shape-rendering="crispEdges"/>
<rect x="416" y="87.3" width="1" height="391.6" fill="url(#g)" shape-rendering="crispEdges"/>
<rect x="417" y="87.0" width="1" height="391.6" fill="url(#g)" shape-rendering="crispEdges"/>
<rect x="418" y="86.7" width="1" height="391.6" fill="url(#g)" shape-rendering="crispEdges"/>
<rect x="419" y="86.4" width="1" height="391.6" fill="url(#g)" shape-rendering="crispEdges"/>
<rect x="420" y="86.1" width="1" height="391.6" fill="url(#g)" shape-rendering="crispEdges"/>
<rect x="421" y="85.9" width="1" height="391.6" fill="url(#g)" shape-rendering="crispEdges"/>
<rect x="422" y="85.6" width="1" height="391.6" fill="url(#g)" shape-rendering="crispEdges"/>
<rect x="423" y="85.3" width="1" height="391.6" fill="url(#g)" shape-rendering="crispEdges"/>
<rect x="424" y="85.0" width="1" height="391.6" fill="url(#g)" shape-rendering="crispEdges"/>
<rect x="425" y="84.7" width="1" height="391.6" fill="url(#g)" shape-rendering="crispEdges"/>
<rect x="426" y="84.4" width="1" height="391.6" fill="url(#g)" shape-rendering="crispEdges"/>
<rect x="427" y="84.1" width="1" height="391.6" fill="url(#g)" shape-rendering="crispEdges"/>
<rect x="428" y="83.8" width="1" height="391.6" fill="url(#g)" shape-rendering="crispEdges"/>
<rect x="429" y="83.5" width="1" height="391.6" fill="url(#g)" shape-rendering="crispEdges"/>
<rect x="430" y="83.3" width="1" height="391.6" fill="url(#g)" shape-rendering="crispEdges"/>
<rect x="431" y="83.0" width="1" height="391.6" fill="url(#g)" shape-rendering="crispEdges"/>
<rect x="432" y="82.7" width="1" height="391.6" fill="url(#g)" shape-rendering="crispEdges"/>
<rect x="433" y="82.4" width="1" height="391.6" fill="url(#g)" shape-rendering="crispEdges"/>
<rect x="434" y="82.2" width="1" height="391.6" fill="url(#g)" shape-rendering="crispEdges"/>
<rect x="435" y="81.9" width="1" height="391.6" fill="url(#g)" shape-rendering="crispEdges"/>
<rect x="436" y="81.6" width="1" height="391.6" fill="url(#g)" shape-rendering="crispEdges"/>
<rect x="437" y="81.4" width="1" height="391.6" fill="url(#g)" shape-rendering="crispEdges"/>
<rect x="438" y="81.1" width="1" height="391.6" fill="url(#g)" shape-rendering="crispEdges"/>
<rect x="439" y="80.8" width="1" height="391.6" fill="url(#g)" shape-rendering="crispEdges"/>
<rect x="440" y="80.6" width="1" height="391.6" fill="url(#g)" shape-rendering="crispEdges"/>
<rect x="441" y="80.3" width="1" height="391.6" fill="url(#g)" shape-rendering="crispEdges"/>
<rect x="442" y="80.0" width="1" height="391.6" fill="url(#g)" shape-rendering="crispEdges"/>
<rect x="443" y="79.8" width="1" height="391.6" fill="url(#g)" shape-rendering="crispEdges"/>
</g></g>
<g shape-rendering="crispEdges" stroke="#000" stroke-width="1"><line x1="42" y1="84.5" x2="730" y2="84.5"/><line x1="42" y1="105.5" x2="730" y2="105.5"/><line x1="42" y1="125.5" x2="730" y2="125.5"/><line x1="42" y1="146.5" x2="730" y2="146.5"/><line x1="42" y1="166.5" x2="730" y2="166.5"/><line x1="42" y1="187.5" x2="730" y2="187.5"/><line x1="42" y1="208.5" x2="730" y2="208.5"/><line x1="42" y1="228.5" x2="730" y2="228.5"/><line x1="42" y1="249.5" x2="730" y2="249.5"/><line x1="42" y1="269.5" x2="730" y2="269.5"/><line x1="42" y1="290.5" x2="730" y2="290.5"/><line x1="42" y1="310.5" x2="730" y2="310.5"/><line x1="42" y1="331.5" x2="730" y2="331.5"/><line x1="42" y1="352.5" x2="730" y2="352.5"/><line x1="42" y1="372.5" x2="730" y2="372.5"/><line x1="42" y1="393.5" x2="730" y2="393.5"/><line x1="42" y1="413.5" x2="730" y2="413.5"/><line x1="42" y1="434.5" x2="730" y2="434.5"/><line x1="42" y1="455.5" x2="730" y2="455.5"/><line x1="42" y1="475.5" x2="730" y2="475.5"/><line x1="42" y1="496.5" x2="730" y2="496.5"/><line x1="42" y1="516.5" x2="730" y2="516.5"/><line x1="42" y1="537.5" x2="730" y2="537.5"/><line x1="42" y1="558.5" x2="730" y2="558.5"/><line x1="42" y1="578.5" x2="730" y2="578.5"/><line x1="48" y1="568.5" x2="730" y2="568.5" stroke-dasharray="1.7 3.05" shape-rendering="auto" stroke="#1a1a1a"/><line x1="48" y1="547.5" x2="730" y2="547.5" stroke-dasharray="1.7 3.05" shape-rendering="auto" stroke="#1a1a1a"/><line x1="48" y1="527.5" x2="730" y2="527.5" stroke-dasharray="1.7 3.05" shape-rendering="auto" stroke="#1a1a1a"/><line x1="48" y1="506.5" x2="730" y2="506.5" stroke-dasharray="1.7 3.05" shape-rendering="auto" stroke="#1a1a1a"/><line x1="48" y1="485.5" x2="730" y2="485.5" stroke-dasharray="1.7 3.05" shape-rendering="auto" stroke="#1a1a1a"/><line x1="48" y1="465.5" x2="730" y2="465.5" stroke-dasharray="1.7 3.05" shape-rendering="auto" stroke="#1a1a1a"/><line x1="48" y1="444.5" x2="730" y2="444.5" stroke-dasharray="1.7 3.05" shape-rendering="auto" stroke="#1a1a1a"/><line x1="48" y1="424.5" x2="730" y2="424.5" stroke-dasharray="1.7 3.05" shape-rendering="auto" stroke="#1a1a1a"/><line x1="48" y1="403.5" x2="730" y2="403.5" stroke-dasharray="1.7 3.05" shape-rendering="auto" stroke="#1a1a1a"/><line x1="48" y1="382.5" x2="730" y2="382.5" stroke-dasharray="1.7 3.05" shape-rendering="auto" stroke="#1a1a1a"/><line x1="48" y1="362.5" x2="730" y2="362.5" stroke-dasharray="1.7 3.05" shape-rendering="auto" stroke="#1a1a1a"/><line x1="48" y1="341.5" x2="730" y2="341.5" stroke-dasharray="1.7 3.05" shape-rendering="auto" stroke="#1a1a1a"/><line x1="48" y1="321.5" x2="730" y2="321.5" stroke-dasharray="1.7 3.05" shape-rendering="auto" stroke="#1a1a1a"/><line x1="48" y1="300.5" x2="730" y2="300.5" stroke-dasharray="1.7 3.05" shape-rendering="auto" stroke="#1a1a1a"/><line x1="48" y1="279.5" x2="730" y2="279.5" stroke-dasharray="1.7 3.05" shape-rendering="auto" stroke="#1a1a1a"/><line x1="48" y1="259.5" x2="730" y2="259.5" stroke-dasharray="1.7 3.05" shape-rendering="auto" stroke="#1a1a1a"/><line x1="48" y1="238.5" x2="730" y2="238.5" stroke-dasharray="1.7 3.05" shape-rendering="auto" stroke="#1a1a1a"/><line x1="48" y1="218.5" x2="730" y2="218.5" stroke-dasharray="1.7 3.05" shape-rendering="auto" stroke="#1a1a1a"/><line x1="48" y1="197.5" x2="730" y2="197.5" stroke-dasharray="1.7 3.05" shape-rendering="auto" stroke="#1a1a1a"/><line x1="48" y1="177.5" x2="730" y2="177.5" stroke-dasharray="1.7 3.05" shape-rendering="auto" stroke="#1a1a1a"/><line x1="48" y1="156.5" x2="730" y2="156.5" stroke-dasharray="1.7 3.05" shape-rendering="auto" stroke="#1a1a1a"/><line x1="48" y1="135.5" x2="730" y2="135.5" stroke-dasharray="1.7 3.05" shape-rendering="auto" stroke="#1a1a1a"/><line x1="48" y1="115.5" x2="730" y2="115.5" stroke-dasharray="1.7 3.05" shape-rendering="auto" stroke="#1a1a1a"/><line x1="48" y1="94.5" x2="730" y2="94.5" stroke-dasharray="1.7 3.05" shape-rendering="auto" stroke="#1a1a1a"/><line x1="56.5" y1="84" x2="56.5" y2="588"/><line x1="78.5" y1="84" x2="78.5" y2="588"/><line x1="100.5" y1="84" x2="100.5" y2="588"/><line x1="122.5" y1="84" x2="122.5" y2="588"/><line x1="144.5" y1="84" x2="144.5" y2="588"/><line x1="166.5" y1="84" x2="166.5" y2="588"/><line x1="188.5" y1="84" x2="188.5" y2="588"/><line x1="209.5" y1="84" x2="209.5" y2="588"/><line x1="231.5" y1="84" x2="231.5" y2="588"/><line x1="253.5" y1="84" x2="253.5" y2="588"/><line x1="275.5" y1="84" x2="275.5" y2="588"/><line x1="297.5" y1="84" x2="297.5" y2="588"/><line x1="319.5" y1="84" x2="319.5" y2="588"/><line x1="341.5" y1="84" x2="341.5" y2="588"/><line x1="363.5" y1="84" x2="363.5" y2="588"/><line x1="385.5" y1="84" x2="385.5" y2="588"/><line x1="407.5" y1="84" x2="407.5" y2="588"/><line x1="429.5" y1="84" x2="429.5" y2="588"/><line x1="451.5" y1="87" x2="451.5" y2="588" stroke-dasharray="1.7 3.05" shape-rendering="auto" stroke="#1a1a1a"/><line x1="473.5" y1="87" x2="473.5" y2="588" stroke-dasharray="1.7 3.05" shape-rendering="auto" stroke="#1a1a1a"/><line x1="495.5" y1="87" x2="495.5" y2="588" stroke-dasharray="1.7 3.05" shape-rendering="auto" stroke="#1a1a1a"/><line x1="517.5" y1="87" x2="517.5" y2="588" stroke-dasharray="1.7 3.05" shape-rendering="auto" stroke="#1a1a1a"/><line x1="539.5" y1="87" x2="539.5" y2="588" stroke-dasharray="1.7 3.05" shape-rendering="auto" stroke="#1a1a1a"/><line x1="561.5" y1="87" x2="561.5" y2="588" stroke-dasharray="1.7 3.05" shape-rendering="auto" stroke="#1a1a1a"/><line x1="583.5" y1="87" x2="583.5" y2="588" stroke-dasharray="1.7 3.05" shape-rendering="auto" stroke="#1a1a1a"/><line x1="605.5" y1="87" x2="605.5" y2="588" stroke-dasharray="1.7 3.05" shape-rendering="auto" stroke="#1a1a1a"/><line x1="627.5" y1="87" x2="627.5" y2="588" stroke-dasharray="1.7 3.05" shape-rendering="auto" stroke="#1a1a1a"/><line x1="649.5" y1="87" x2="649.5" y2="588" stroke-dasharray="1.7 3.05" shape-rendering="auto" stroke="#1a1a1a"/><line x1="671.5" y1="87" x2="671.5" y2="588" stroke-dasharray="1.7 3.05" shape-rendering="auto" stroke="#1a1a1a"/><line x1="693.5" y1="87" x2="693.5" y2="588" stroke-dasharray="1.7 3.05" shape-rendering="auto" stroke="#1a1a1a"/><line x1="715.5" y1="87" x2="715.5" y2="588" stroke-dasharray="1.7 3.05" shape-rendering="auto" stroke="#1a1a1a"/><rect x="42" y="84" width="1" height="504" fill="#000" stroke="none"/><rect x="42" y="588" width="688" height="2" fill="#000" stroke="none"/><rect x="42" y="577" width="6" height="2" fill="#000" stroke="none"/><rect x="42" y="557" width="6" height="2" fill="#000" stroke="none"/><rect x="42" y="536" width="6" height="2" fill="#000" stroke="none"/><rect x="42" y="515" width="6" height="2" fill="#000" stroke="none"/><rect x="42" y="495" width="6" height="2" fill="#000" stroke="none"/><rect x="42" y="474" width="6" height="2" fill="#000" stroke="none"/><rect x="42" y="454" width="6" height="2" fill="#000" stroke="none"/><rect x="42" y="433" width="6" height="2" fill="#000" stroke="none"/><rect x="42" y="412" width="6" height="2" fill="#000" stroke="none"/><rect x="42" y="392" width="6" height="2" fill="#000" stroke="none"/><rect x="42" y="371" width="6" height="2" fill="#000" stroke="none"/><rect x="42" y="351" width="6" height="2" fill="#000" stroke="none"/><rect x="42" y="330" width="6" height="2" fill="#000" stroke="none"/><rect x="42" y="309" width="6" height="2" fill="#000" stroke="none"/><rect x="42" y="289" width="6" height="2" fill="#000" stroke="none"/><rect x="42" y="268" width="6" height="2" fill="#000" stroke="none"/><rect x="42" y="248" width="6" height="2" fill="#000" stroke="none"/><rect x="42" y="227" width="6" height="2" fill="#000" stroke="none"/><rect x="42" y="207" width="6" height="2" fill="#000" stroke="none"/><rect x="42" y="186" width="6" height="2" fill="#000" stroke="none"/><rect x="42" y="165" width="6" height="2" fill="#000" stroke="none"/><rect x="42" y="145" width="6" height="2" fill="#000" stroke="none"/><rect x="42" y="124" width="6" height="2" fill="#000" stroke="none"/><rect x="42" y="104" width="6" height="2" fill="#000" stroke="none"/><rect x="42" y="83" width="6" height="2" fill="#000" stroke="none"/><rect x="42" y="568" width="3" height="2" fill="#000" stroke="none"/><rect x="42" y="547" width="3" height="2" fill="#000" stroke="none"/><rect x="42" y="527" width="3" height="2" fill="#000" stroke="none"/><rect x="42" y="506" width="3" height="2" fill="#000" stroke="none"/><rect x="42" y="485" width="3" height="2" fill="#000" stroke="none"/><rect x="42" y="465" width="3" height="2" fill="#000" stroke="none"/><rect x="42" y="444" width="3" height="2" fill="#000" stroke="none"/><rect x="42" y="424" width="3" height="2" fill="#000" stroke="none"/><rect x="42" y="403" width="3" height="2" fill="#000" stroke="none"/><rect x="42" y="382" width="3" height="2" fill="#000" stroke="none"/><rect x="42" y="362" width="3" height="2" fill="#000" stroke="none"/><rect x="42" y="341" width="3" height="2" fill="#000" stroke="none"/><rect x="42" y="321" width="3" height="2" fill="#000" stroke="none"/><rect x="42" y="300" width="3" height="2" fill="#000" stroke="none"/><rect x="42" y="279" width="3" height="2" fill="#000" stroke="none"/><rect x="42" y="259" width="3" height="2" fill="#000" stroke="none"/><rect x="42" y="238" width="3" height="2" fill="#000" stroke="none"/><rect x="42" y="218" width="3" height="2" fill="#000" stroke="none"/><rect x="42" y="197" width="3" height="2" fill="#000" stroke="none"/><rect x="42" y="177" width="3" height="2" fill="#000" stroke="none"/><rect x="42" y="156" width="3" height="2" fill="#000" stroke="none"/><rect x="42" y="135" width="3" height="2" fill="#000" stroke="none"/><rect x="42" y="115" width="3" height="2" fill="#000" stroke="none"/><rect x="42" y="94" width="3" height="2" fill="#000" stroke="none"/></g>
<g clip-path="url(#plot)">
<polyline fill="none" stroke="#000" stroke-width="2.0" stroke-linejoin="round" points="39.99,436.80 45.48,449.17 50.96,461.53 56.45,394.97 61.94,344.07 67.42,324.49 72.91,418.26 78.39,322.43 83.88,395.59 89.37,455.35 94.85,471.84 100.34,509.96 105.82,455.35 111.31,355.40 116.80,566.64 122.28,508.93 127.77,408.98 133.25,508.93 138.74,492.45 144.23,475.96 149.71,567.67 155.20,423.41 160.68,484.20 166.17,543.97 171.66,483.17 177.14,428.56 182.63,368.80 188.11,535.72 193.60,538.81 199.09,504.81 204.57,436.80 210.06,397.65 215.54,364.68 221.03,352.31 226.52,370.86 232.00,270.91 237.49,263.70 242.97,267.82 248.46,427.33 253.95,416.20 259.43,393.53 264.92,333.76 270.40,238.35 275.89,418.26 281.38,271.53 286.86,327.58 292.35,171.79 297.83,203.93 303.32,312.13 308.81,421.35 314.29,414.14 319.78,474.93 325.26,364.68 330.75,405.89 336.24,448.14 341.72,410.01 347.21,333.76 352.69,342.01 358.18,412.08 363.67,368.80 369.15,265.76 374.64,220.21 380.12,234.85 385.61,363.65 391.10,334.80 396.58,214.24 402.07,171.99 407.55,177.14 413.04,160.66 418.53,143.35 424.01,184.56 429.50,173.02 434.98,148.29 442.70,124.18"/>
<polyline fill="none" stroke="#000" stroke-width="2.7" stroke-linejoin="round" points="40.00,418.20 42.00,417.24 44.00,416.27 46.00,415.29 48.00,414.29 50.00,413.29 52.00,412.27 54.00,411.25 56.00,410.21 58.00,409.17 60.00,408.12 62.00,407.06 64.00,405.99 66.00,404.92 68.00,403.84 70.00,402.75 72.00,401.66 74.00,400.56 76.00,399.46 78.00,398.35 80.00,397.24 82.00,396.13 84.00,395.01 86.00,393.90 88.00,392.77 90.00,391.65 92.00,390.53 94.00,389.40 96.00,388.28 98.00,387.15 100.00,386.03 102.00,384.90 104.00,383.78 106.00,382.66 108.00,381.54 110.00,380.43 112.00,379.31 114.00,378.21 116.00,377.10 118.00,376.00 120.00,374.91 122.00,373.82 124.00,372.73 126.00,371.65 128.00,370.57 130.00,369.50 132.00,368.43 134.00,367.37 136.00,366.31 138.00,365.26 140.00,364.22 142.00,363.17 144.00,362.14 146.00,361.10 148.00,360.08 150.00,359.05 152.00,358.04 154.00,357.03 156.00,356.02 158.00,355.02 160.00,354.02 162.00,353.03 164.00,352.04 166.00,351.06 168.00,350.09 170.00,349.12 172.00,348.15 174.00,347.19 176.00,346.24 178.00,345.29 180.00,344.35 182.00,343.41 184.00,342.48 186.00,341.56 188.00,340.64 190.00,339.72 192.00,338.81 194.00,337.91 196.00,337.01 198.00,336.12 200.00,335.24 202.00,334.35 204.00,333.48 206.00,332.61 208.00,331.75 210.00,330.89 212.00,330.03 214.00,329.18 216.00,328.33 218.00,327.49 220.00,326.65 222.00,325.82 224.00,324.99 226.00,324.16 228.00,323.34 230.00,322.52 232.00,321.70 234.00,320.89 236.00,320.08 238.00,319.27 240.00,318.46 242.00,317.66 244.00,316.86 246.00,316.06 248.00,315.26 250.00,314.46 252.00,313.67 254.00,312.88 256.00,312.08 258.00,311.29 260.00,310.50 262.00,309.71 264.00,308.92 266.00,308.13 268.00,307.34 270.00,306.55 272.00,305.77 274.00,304.98 276.00,304.19 278.00,303.40 280.00,302.60 282.00,301.81 284.00,301.02 286.00,300.22 288.00,299.43 290.00,298.64 292.00,297.84 294.00,297.04 296.00,296.25 298.00,295.45 300.00,294.66 302.00,293.86 304.00,293.06 306.00,292.27 308.00,291.48 310.00,290.68 312.00,289.89 314.00,289.10 316.00,288.30 318.00,287.51 320.00,286.72 322.00,285.94 324.00,285.15 326.00,284.37 328.00,283.58 330.00,282.80 332.00,282.02 334.00,281.24 336.00,280.47 338.00,279.69 340.00,278.92 342.00,278.15 344.00,277.39 346.00,276.62 348.00,275.86 350.00,275.11 352.00,274.35 354.00,273.60 356.00,272.85 358.00,272.11 360.00,271.36 362.00,270.63 364.00,269.89 366.00,269.16 368.00,268.43 370.00,267.71 372.00,266.99 374.00,266.28 376.00,265.57 378.00,264.86 380.00,264.16 382.00,263.46 384.00,262.76 386.00,262.07 388.00,261.39 390.00,260.71 392.00,260.04 394.00,259.37 396.00,258.70 398.00,258.04 400.00,257.39 402.00,256.74 404.00,256.10 406.00,255.46 408.00,254.83 410.00,254.20 412.00,253.58 414.00,252.97 416.00,252.36 418.00,251.75 420.00,251.16 422.00,250.57 424.00,249.98 426.00,249.41 428.00,248.84 430.00,248.27 432.00,247.72 434.00,247.17 436.00,246.62 438.00,246.09 440.00,245.56 442.00,245.04 444.00,244.52 446.00,244.02 448.00,243.52 450.00,243.03 452.00,242.55 454.00,242.08 456.00,241.61 458.00,241.16 460.00,240.72 462.00,240.28 464.00,239.86 466.00,239.45 468.00,239.04 470.00,238.65 472.00,238.27 474.00,237.90 476.00,237.55 478.00,237.20 480.00,236.87 482.00,236.55 484.00,236.24 486.00,235.94 488.00,235.66 490.00,235.39 492.00,235.14 494.00,234.90 496.00,234.67 498.00,234.46 500.00,234.26 502.00,234.08 504.00,233.91 506.00,233.75 508.00,233.62 510.00,233.49 512.00,233.39 514.00,233.29 516.00,233.22 518.00,233.15 520.00,233.10 522.00,233.07 524.00,233.05 526.00,233.04 528.00,233.05 530.00,233.07 532.00,233.11 534.00,233.16 536.00,233.22 538.00,233.30 540.00,233.39 542.00,233.49 544.00,233.61 546.00,233.74 548.00,233.88 550.00,234.03 552.00,234.20 554.00,234.38 556.00,234.58 558.00,234.78 560.00,235.00 562.00,235.23 564.00,235.47 566.00,235.72 568.00,235.99 570.00,236.26 572.00,236.55 574.00,236.85 576.00,237.16 578.00,237.48 580.00,237.82 582.00,238.16 584.00,238.52 586.00,238.88 588.00,239.26 590.00,239.65 592.00,240.04 594.00,240.45 596.00,240.87 598.00,241.30 600.00,241.73 602.00,242.18 604.00,242.64 606.00,243.11 608.00,243.58 610.00,244.07 612.00,244.56 614.00,245.07 616.00,245.58 618.00,246.10 620.00,246.63 622.00,247.17 624.00,247.72 626.00,248.28 628.00,248.84 630.00,249.41 632.00,250.00 634.00,250.58 636.00,251.18 638.00,251.79 640.00,252.40 642.00,253.02 644.00,253.65 646.00,254.28 648.00,254.92 650.00,255.57 652.00,256.23 654.00,256.89 656.00,257.56 658.00,258.23 660.00,258.92 662.00,259.61 664.00,260.30 666.00,261.00 668.00,261.71 670.00,262.42 672.00,263.14 674.00,263.87 676.00,264.60 678.00,265.33 680.00,266.07 682.00,266.82 684.00,267.57 686.00,268.33 688.00,269.09 690.00,269.85 692.00,270.62 694.00,271.40 696.00,272.18 698.00,272.96 700.00,273.75 702.00,274.54 704.00,275.34 706.00,276.14 708.00,276.94 710.00,277.75 712.00,278.56 714.00,279.38 716.00,280.19 718.00,281.02 720.00,281.84 722.00,282.67 724.00,283.50 726.00,284.33 728.00,285.16 730.00,286.00 732.00,286.84"/>
</g>
<text x="19.5" y="582.80" font-family="Liberation Sans" font-size="12.3" letter-spacing="1.5" fill="#000">12</text>
<text x="19.5" y="562.80" font-family="Liberation Sans" font-size="12.3" letter-spacing="1.5" fill="#000">13</text>
<text x="19.5" y="541.80" font-family="Liberation Sans" font-size="12.3" letter-spacing="1.5" fill="#000">14</text>
<text x="19.5" y="520.80" font-family="Liberation Sans" font-size="12.3" letter-spacing="1.5" fill="#000">15</text>
<text x="19.5" y="500.80" font-family="Liberation Sans" font-size="12.3" letter-spacing="1.5" fill="#000">16</text>
<text x="19.5" y="479.80" font-family="Liberation Sans" font-size="12.3" letter-spacing="1.5" fill="#000">17</text>
<text x="19.5" y="459.80" font-family="Liberation Sans" font-size="12.3" letter-spacing="1.5" fill="#000">18</text>
<text x="19.5" y="438.80" font-family="Liberation Sans" font-size="12.3" letter-spacing="1.5" fill="#000">19</text>
<text x="19.5" y="417.80" font-family="Liberation Sans" font-size="12.3" letter-spacing="1.5" fill="#000">20</text>
<text x="19.5" y="397.80" font-family="Liberation Sans" font-size="12.3" letter-spacing="1.5" fill="#000">21</text>
<text x="19.5" y="376.80" font-family="Liberation Sans" font-size="12.3" letter-spacing="1.5" fill="#000">22</text>
<text x="19.5" y="356.80" font-family="Liberation Sans" font-size="12.3" letter-spacing="1.5" fill="#000">23</text>
<text x="19.5" y="335.80" font-family="Liberation Sans" font-size="12.3" letter-spacing="1.5" fill="#000">24</text>
<text x="19.5" y="314.80" font-family="Liberation Sans" font-size="12.3" letter-spacing="1.5" fill="#000">25</text>
<text x="19.5" y="294.80" font-family="Liberation Sans" font-size="12.3" letter-spacing="1.5" fill="#000">26</text>
<text x="19.5" y="273.80" font-family="Liberation Sans" font-size="12.3" letter-spacing="1.5" fill="#000">27</text>
<text x="19.5" y="253.80" font-family="Liberation Sans" font-size="12.3" letter-spacing="1.5" fill="#000">28</text>
<text x="19.5" y="232.80" font-family="Liberation Sans" font-size="12.3" letter-spacing="1.5" fill="#000">29</text>
<text x="19.5" y="212.80" font-family="Liberation Sans" font-size="12.3" letter-spacing="1.5" fill="#000">30</text>
<text x="19.5" y="191.80" font-family="Liberation Sans" font-size="12.3" letter-spacing="1.5" fill="#000">31</text>
<text x="19.5" y="170.80" font-family="Liberation Sans" font-size="12.3" letter-spacing="1.5" fill="#000">32</text>
<text x="19.5" y="150.80" font-family="Liberation Sans" font-size="12.3" letter-spacing="1.5" fill="#000">33</text>
<text x="19.5" y="129.80" font-family="Liberation Sans" font-size="12.3" letter-spacing="1.5" fill="#000">34</text>
<text x="19.5" y="109.80" font-family="Liberation Sans" font-size="12.3" letter-spacing="1.5" fill="#000">35</text>
<text x="19.5" y="88.80" font-family="Liberation Sans" font-size="12.3" letter-spacing="1.5" fill="#000">36</text>
<text transform="translate(60.80,593.8) rotate(-90)" text-anchor="end" font-family="Liberation Sans" font-size="12.5" letter-spacing="0.6" word-spacing="3.2" fill="#000">Sa 04/05</text>
<text transform="translate(82.80,593.8) rotate(-90)" text-anchor="end" font-family="Liberation Sans" font-size="12.5" letter-spacing="0.6" word-spacing="3.2" fill="#000">Me 08/05</text>
<text transform="translate(104.80,593.8) rotate(-90)" text-anchor="end" font-family="Liberation Sans" font-size="12.5" letter-spacing="0.6" word-spacing="3.2" fill="#000">Di 12/05</text>
<text transform="translate(126.80,593.8) rotate(-90)" text-anchor="end" font-family="Liberation Sans" font-size="12.5" letter-spacing="0.6" word-spacing="3.2" fill="#000">Je 16/05</text>
<text transform="translate(148.80,593.8) rotate(-90)" text-anchor="end" font-family="Liberation Sans" font-size="12.5" letter-spacing="0.6" word-spacing="3.2" fill="#000">Lu 20/05</text>
<text transform="translate(170.80,593.8) rotate(-90)" text-anchor="end" font-family="Liberation Sans" font-size="12.5" letter-spacing="0.6" word-spacing="3.2" fill="#000">Ve 24/05</text>
<text transform="translate(192.80,593.8) rotate(-90)" text-anchor="end" font-family="Liberation Sans" font-size="12.5" letter-spacing="0.6" word-spacing="3.2" fill="#000">Ma 28/05</text>
<text transform="translate(213.80,593.8) rotate(-90)" text-anchor="end" font-family="Liberation Sans" font-size="12.5" letter-spacing="0.6" word-spacing="3.2" fill="#000">Sa 01/06</text>
<text transform="translate(235.80,593.8) rotate(-90)" text-anchor="end" font-family="Liberation Sans" font-size="12.5" letter-spacing="0.6" word-spacing="3.2" fill="#000">Me 05/06</text>
<text transform="translate(257.80,593.8) rotate(-90)" text-anchor="end" font-family="Liberation Sans" font-size="12.5" letter-spacing="0.6" word-spacing="3.2" fill="#000">Di 09/06</text>
<text transform="translate(279.80,593.8) rotate(-90)" text-anchor="end" font-family="Liberation Sans" font-size="12.5" letter-spacing="0.6" word-spacing="3.2" fill="#000">Je 13/06</text>
<text transform="translate(301.80,593.8) rotate(-90)" text-anchor="end" font-family="Liberation Sans" font-size="12.5" letter-spacing="0.6" word-spacing="3.2" fill="#000">Lu 17/06</text>
<text transform="translate(323.80,593.8) rotate(-90)" text-anchor="end" font-family="Liberation Sans" font-size="12.5" letter-spacing="0.6" word-spacing="3.2" fill="#000">Ve 21/06</text>
<text transform="translate(345.80,593.8) rotate(-90)" text-anchor="end" font-family="Liberation Sans" font-size="12.5" letter-spacing="0.6" word-spacing="3.2" fill="#000">Ma 25/06</text>
<text transform="translate(367.80,593.8) rotate(-90)" text-anchor="end" font-family="Liberation Sans" font-size="12.5" letter-spacing="0.6" word-spacing="3.2" fill="#000">Sa 29/06</text>
<text transform="translate(389.80,593.8) rotate(-90)" text-anchor="end" font-family="Liberation Sans" font-size="12.5" letter-spacing="0.6" word-spacing="3.2" fill="#000">Me 03/07</text>
<text transform="translate(411.80,593.8) rotate(-90)" text-anchor="end" font-family="Liberation Sans" font-size="12.5" letter-spacing="0.6" word-spacing="3.2" fill="#000">Di 07/07</text>
<text transform="translate(433.80,593.8) rotate(-90)" text-anchor="end" font-family="Liberation Sans" font-size="12.5" letter-spacing="0.6" word-spacing="3.2" fill="#000">Je 11/07</text>
<text transform="translate(455.80,593.8) rotate(-90)" text-anchor="end" font-family="Liberation Sans" font-size="12.5" letter-spacing="0.6" word-spacing="3.2" fill="#000">Lu 15/07</text>
<text transform="translate(477.80,593.8) rotate(-90)" text-anchor="end" font-family="Liberation Sans" font-size="12.5" letter-spacing="0.6" word-spacing="3.2" fill="#000">Ve 19/07</text>
<text transform="translate(499.80,593.8) rotate(-90)" text-anchor="end" font-family="Liberation Sans" font-size="12.5" letter-spacing="0.6" word-spacing="3.2" fill="#000">Ma 23/07</text>
<text transform="translate(521.80,593.8) rotate(-90)" text-anchor="end" font-family="Liberation Sans" font-size="12.5" letter-spacing="0.6" word-spacing="3.2" fill="#000">Sa 27/07</text>
<text transform="translate(543.80,593.8) rotate(-90)" text-anchor="end" font-family="Liberation Sans" font-size="12.5" letter-spacing="0.6" word-spacing="3.2" fill="#000">Me 31/07</text>
<text transform="translate(565.80,593.8) rotate(-90)" text-anchor="end" font-family="Liberation Sans" font-size="12.5" letter-spacing="0.6" word-spacing="3.2" fill="#000">Di 04/08</text>
<text transform="translate(587.80,593.8) rotate(-90)" text-anchor="end" font-family="Liberation Sans" font-size="12.5" letter-spacing="0.6" word-spacing="3.2" fill="#000">Je 08/08</text>
<text transform="translate(609.80,593.8) rotate(-90)" text-anchor="end" font-family="Liberation Sans" font-size="12.5" letter-spacing="0.6" word-spacing="3.2" fill="#000">Lu 12/08</text>
<text transform="translate(631.80,593.8) rotate(-90)" text-anchor="end" font-family="Liberation Sans" font-size="12.5" letter-spacing="0.6" word-spacing="3.2" fill="#000">Ve 16/08</text>
<text transform="translate(653.80,593.8) rotate(-90)" text-anchor="end" font-family="Liberation Sans" font-size="12.5" letter-spacing="0.6" word-spacing="3.2" fill="#000">Ma 20/08</text>
<text transform="translate(675.80,593.8) rotate(-90)" text-anchor="end" font-family="Liberation Sans" font-size="12.5" letter-spacing="0.6" word-spacing="3.2" fill="#000">Sa 24/08</text>
<text transform="translate(697.80,593.8) rotate(-90)" text-anchor="end" font-family="Liberation Sans" font-size="12.5" letter-spacing="0.6" word-spacing="3.2" fill="#000">Me 28/08</text>
<text transform="translate(719.80,593.8) rotate(-90)" text-anchor="end" font-family="Liberation Sans" font-size="12.5" letter-spacing="0.6" word-spacing="3.2" fill="#000">Di 01/09</text>
<rect x="253.5" y="7.5" width="325" height="47" fill="#fff" stroke="#000" stroke-width="1" shape-rendering="crispEdges"/>
<text x="261.3" y="27.7" font-family="Liberation Serif" font-weight="bold" font-size="16.8" fill="#000" stroke="#000" stroke-width="0.6" lengthAdjust="spacingAndGlyphs" textLength="120.0">TEMPERATURES</text>
<text x="388.8" y="27.7" font-family="Liberation Serif" font-weight="bold" font-size="16.8" fill="#000" stroke="#000" stroke-width="0.6" lengthAdjust="spacingAndGlyphs" textLength="84.4">MAXIMALES</text>
<text x="481.9" y="27.7" font-family="Liberation Serif" font-weight="bold" font-size="16.8" fill="#000" stroke="#000" stroke-width="0.6" lengthAdjust="spacingAndGlyphs" textLength="89.1">OBSERVEES</text>
<text x="282.5" y="46.9" font-family="Liberation Serif" font-weight="bold" font-size="16.8" fill="#000" stroke="#000" stroke-width="0.6" lengthAdjust="spacingAndGlyphs" textLength="42.1">POUR</text>
<text x="331.2" y="46.9" font-family="Liberation Serif" font-weight="bold" font-size="16.8" fill="#000" stroke="#000" stroke-width="0.6" lengthAdjust="spacingAndGlyphs" textLength="19.1">LA</text>
<text x="356.9" y="46.9" font-family="Liberation Serif" font-weight="bold" font-size="16.8" fill="#000" stroke="#000" stroke-width="0.6" lengthAdjust="spacingAndGlyphs" textLength="63.3">STATION</text>
<text x="427.9" y="46.9" font-family="Liberation Serif" font-weight="bold" font-size="16.8" fill="#000" stroke="#000" stroke-width="0.6" lengthAdjust="spacingAndGlyphs" textLength="20.1">DE</text>
<text x="455.7" y="46.9" font-family="Liberation Serif" font-weight="bold" font-size="16.8" fill="#000" stroke="#000" stroke-width="0.6" lengthAdjust="spacingAndGlyphs" textLength="93.0">MONTAUBAN</text>
<rect x="306.5" y="91.5" width="223" height="27" fill="#fff" stroke="#000" stroke-width="1" shape-rendering="crispEdges"/>
<text x="312.5" y="109.8" font-family="Liberation Serif" font-style="italic" font-size="15.2" fill="#000" lengthAdjust="spacingAndGlyphs" textLength="66.3">Normale</text>
<text x="389.4" y="109.8" font-family="Liberation Serif" font-style="italic" font-size="15.2" fill="#000" lengthAdjust="spacingAndGlyphs" textLength="18.8">du</text>
<text x="415.8" y="109.8" font-family="Liberation Serif" font-style="italic" font-size="15.2" fill="#000" lengthAdjust="spacingAndGlyphs" textLength="32.4">jour</text>
<text x="457.2" y="109.8" font-family="Liberation Serif" font-style="italic" font-size="15.2" fill="#000" lengthAdjust="spacingAndGlyphs" textLength="3.0">:</text>
<text x="470.0" y="109.8" font-family="Liberation Serif" font-style="italic" font-size="15.2" fill="#000" lengthAdjust="spacingAndGlyphs" textLength="50.5">28,2°C</text>
</svg></body></html>
